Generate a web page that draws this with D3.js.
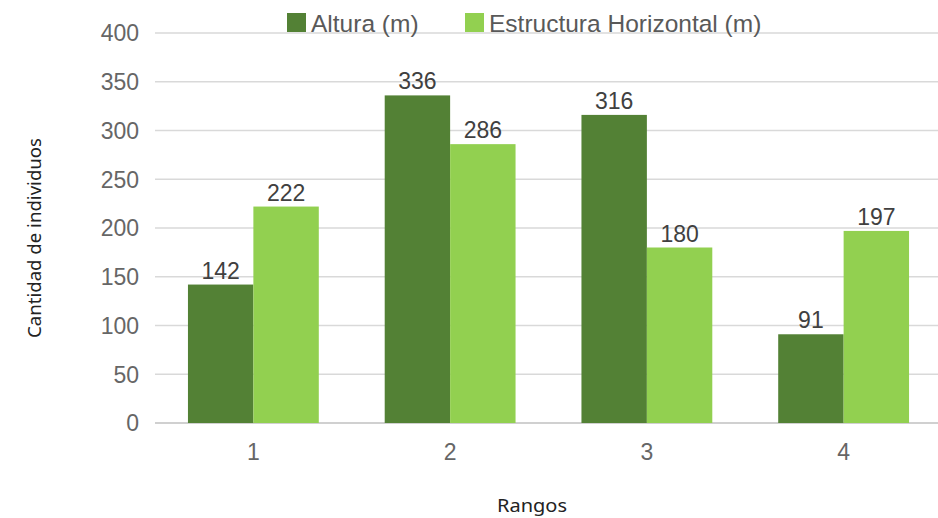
<!DOCTYPE html>
<html><head><meta charset="utf-8">
<script src="https://cdn.jsdelivr.net/npm/d3@7"></script>
<style>body{margin:0;background:#fff}</style>
</head><body>
<svg id="c" width="938" height="518"></svg>
<script>
const categories = ["1","2","3","4"];
const seriesNames = ["Altura (m)","Estructura Horizontal (m)"];
const altura = [142,336,316,91];
const estructura = [222,286,180,197];
const yTicks = [0,50,100,150,200,250,300,350,400];
const colors = ["#538135","#92D050"];

const svg = d3.select("#c");
const x0 = d3.scaleBand().domain(categories).range([155,942]).paddingInner(0.335).paddingOuter(0.1675);
const x1 = d3.scaleBand().domain([0,1]).range([0,x0.bandwidth()]);
const y = d3.scaleLinear().domain([0,400]).range([423,33]);
const sans = "Liberation Sans, Arial, sans-serif";

// gridlines
svg.append("g").selectAll("line").data(yTicks).join("line")
  .attr("x1",155).attr("x2",940).attr("y1",d=>y(d)).attr("y2",d=>y(d))
  .attr("stroke",d=>d===0?"#d0d0d0":"#d9d9d9").attr("stroke-width",d=>d===0?2:1.5);

// y tick labels
svg.append("g").selectAll("text").data(yTicks).join("text")
  .attr("x",139).attr("y",d=>y(d)).attr("dy","0.36em").attr("text-anchor","end")
  .attr("font-family",sans).attr("font-size",23).attr("fill","#666")
  .text(d=>d);

const data = categories.map((c,i)=>({c, vals:[altura[i],estructura[i]]}));
const g = svg.append("g").selectAll("g").data(data).join("g")
  .attr("transform",d=>`translate(${x0(d.c)},0)`);
g.selectAll("rect").data(d=>d.vals.map((v,k)=>({v,k}))).join("rect")
  .attr("x",d=>x1(d.k)).attr("width",x1.bandwidth())
  .attr("y",d=>y(d.v)).attr("height",d=>y(0)-y(d.v)).attr("fill",d=>colors[d.k]);
g.selectAll("text").data(d=>d.vals.map((v,k)=>({v,k}))).join("text")
  .attr("x",d=>x1(d.k)+x1.bandwidth()/2).attr("y",d=>y(d.v)-6)
  .attr("text-anchor","middle").attr("font-family",sans)
  .attr("font-size",23).attr("fill","#404040").text(d=>d.v);

// x tick labels
svg.append("g").selectAll("text").data(categories).join("text")
  .attr("x",d=>x0(d)+x0.bandwidth()/2).attr("y",460).attr("text-anchor","middle")
  .attr("font-family",sans).attr("font-size",23).attr("fill","#666")
  .text(d=>d);

// legend
const leg = [{x:287,tx:311},{x:465,tx:489}];
seriesNames.forEach((n,i)=>{
  svg.append("rect").attr("x",leg[i].x).attr("y",13).attr("width",19).attr("height",19).attr("fill",colors[i]);
  svg.append("text").attr("x",leg[i].tx).attr("y",32).attr("font-family",sans)
    .attr("font-size",24.5).attr("fill","#595959").text(n);
});

// axis titles
svg.append("text").attr("x",532).attr("y",512).attr("text-anchor","middle")
  .attr("font-family","Noto Sans, sans-serif").attr("font-size",18.5).attr("fill","#222")
  .attr("textLength",70).attr("lengthAdjust","spacingAndGlyphs").text("Rangos");
svg.append("text").attr("transform","translate(41,238) rotate(-90)").attr("text-anchor","middle")
  .attr("font-family","Noto Sans, sans-serif").attr("font-size",18.5).attr("fill","#222")
  .attr("textLength",200).attr("lengthAdjust","spacingAndGlyphs").text("Cantidad de individuos");
</script>
</body></html>
